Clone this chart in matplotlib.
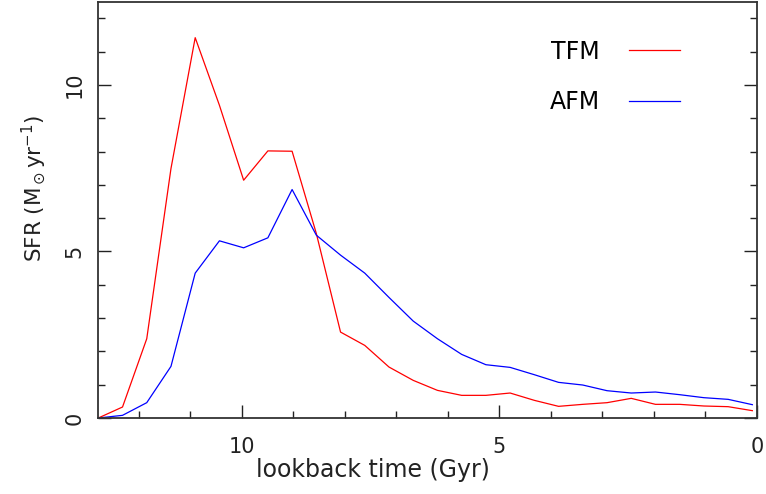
import matplotlib

matplotlib.use("Agg")
import matplotlib.pyplot as plt
from matplotlib.ticker import MultipleLocator

# lookback time grid (Gyr) and star formation rates (Msun / yr)
lookback = [12.78, 12.31, 11.84, 11.37, 10.90, 10.43, 9.96, 9.49, 9.02, 8.55,
            8.08, 7.61, 7.14, 6.67, 6.20, 5.73, 5.26, 4.79, 4.32, 3.85,
            3.38, 2.91, 2.44, 1.97, 1.50, 1.03, 0.56, 0.09]
sfr_tfm = [0.00, 0.33, 2.38, 7.49, 11.42, 9.39, 7.14, 8.02, 8.01, 5.54,
           2.58, 2.18, 1.53, 1.13, 0.83, 0.68, 0.68, 0.75, 0.53, 0.35,
           0.41, 0.46, 0.59, 0.41, 0.41, 0.36, 0.34, 0.22]
sfr_afm = [0.00, 0.08, 0.46, 1.55, 4.35, 5.32, 5.11, 5.41, 6.86, 5.49,
           4.89, 4.35, 3.62, 2.91, 2.38, 1.91, 1.60, 1.52, 1.30, 1.07,
           0.99, 0.82, 0.75, 0.78, 0.70, 0.61, 0.56, 0.40]
series_labels = ["TFM", "AFM"]

plt.rcParams["font.family"] = "DejaVu Sans"
plt.rcParams["mathtext.fontset"] = "dejavusans"

fig = plt.figure(figsize=(7.66, 4.94), dpi=100)
ax = fig.add_axes([98.3 / 766, 1 - 418 / 494, (757 - 98.3) / 766, (418 - 1.7) / 494])

ax.plot(lookback, sfr_tfm, color="#ff0000", linewidth=0.9, label=series_labels[0])
ax.plot(lookback, sfr_afm, color="#0000ff", linewidth=0.9, label=series_labels[1])

ax.set_xlim(12.78, 0)
ax.set_ylim(0, 12.5)

ax.xaxis.set_major_locator(MultipleLocator(5))
ax.xaxis.set_minor_locator(MultipleLocator(1))
ax.yaxis.set_major_locator(MultipleLocator(5))
ax.yaxis.set_minor_locator(MultipleLocator(1))

ax.tick_params(axis="both", which="both", direction="in", colors="#222222",
               labelcolor="#222222", labelsize=15)
ax.tick_params(axis="x", which="both", top=False, bottom=True)
ax.tick_params(axis="y", which="both", left=True, right=True)
ax.tick_params(which="major", length=9.5, width=1.0)
ax.tick_params(which="minor", length=5, width=1.0)
ax.tick_params(axis="x", which="major", pad=13.5)
ax.tick_params(axis="y", which="major", pad=10)
for lbl in ax.get_yticklabels():
    lbl.set_rotation(90)
    lbl.set_va("center")

for spine in ax.spines.values():
    spine.set_color("#333333")
    spine.set_linewidth(1.3)

ax.set_xlabel("lookback time (Gyr)", fontsize=17, color="#222222")
ax.xaxis.set_label_coords(0.417, -0.097)
ax.set_ylabel(r"SFR (M$_\odot$yr$^{-1}$)", fontsize=15.5, color="#222222")
ax.yaxis.set_label_coords(-0.077, 0.552)

ax.legend(loc="upper right", bbox_to_anchor=(680 / 766, 1 - 39.5 / 494),
          bbox_transform=fig.transFigure, frameon=False, markerfirst=False,
          fontsize=17, handlelength=2.16, handletextpad=1.23, labelspacing=1.14,
          borderpad=0, borderaxespad=0)

fig.savefig("out.png", dpi=100)
